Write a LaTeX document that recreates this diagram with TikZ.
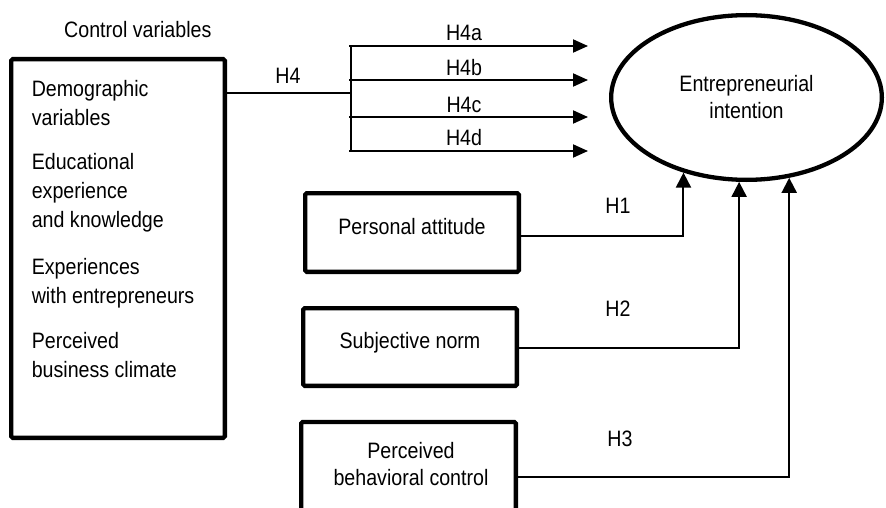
\documentclass[tikz,border=0pt]{standalone}
\usepackage{fontspec}
\setmainfont{Liberation Sans}[FakeStretch=0.88]
\usetikzlibrary{arrows.meta,shapes.geometric}
\begin{document}
\begin{tikzpicture}[x=1pt,y=-1pt,
  every node/.style={font=\fontsize{22.3}{27}\selectfont},
  txt/.style={inner sep=0pt},
  bigbox/.style={draw, line width=4.3pt, rounded corners=1.5pt, inner sep=0pt},
  oval/.style={draw, ellipse, line width=4.3pt, inner sep=0pt, align=center},
  conn/.style={line width=2pt},
  arr/.style={line width=2pt, -{Triangle[length=15pt,width=13pt]}},
  uparr/.style={line width=2pt, -{Triangle[length=15pt,width=15pt]}}]
\useasboundingbox (0,0) rectangle (886,508);
\clip (0,0) rectangle (886,508);

% left box
\node[bigbox, minimum width=213.7pt, minimum height=378.7pt] (cv) at (118,248.5) {};
\node[txt, anchor=base west] (cvt) at (64,37.5) {Control variables};
\node[txt, anchor=base west] (l1) at (31.6,96.5) {Demographic};
\node[txt, anchor=base west] (l2) at (31.6,125.5) {variables};
\node[txt, anchor=base west] (l3) at (31.6,169.5) {Educational};
\node[txt, anchor=base west] (l4) at (31.6,198.5) {experience};
\node[txt, anchor=base west] (l5) at (31.6,227.5) {and knowledge};
\node[txt, anchor=base west] (l6) at (31.6,274.5) {Experiences};
\node[txt, anchor=base west] (l7) at (31.6,303.5) {with entrepreneurs};
\node[txt, anchor=base west] (l8) at (31.6,348.5) {Perceived};
\node[txt, anchor=base west] (l9) at (31.6,377.5) {business climate};

% ellipse
\node[oval, minimum width=270.7pt, minimum height=164.7pt] (ei) at (746.5,97.5) {Entrepreneurial\\intention};

% right-hand boxes
\node[bigbox, minimum width=213.7pt, minimum height=78.7pt] (pa) at (412,232.5) {};
\node[txt, anchor=base] (pat) at (412,234.5) {Personal attitude};
\node[bigbox, minimum width=213.7pt, minimum height=77.7pt] (sn) at (410,347) {};
\node[txt, anchor=base] (snt) at (410,348.5) {Subjective norm};
\node[bigbox, minimum width=214.7pt, minimum height=108pt] (pb) at (408.5,476) {};
\node[txt, anchor=base] (pbt1) at (411,458.5) {Perceived};
\node[txt, anchor=base] (pbt2) at (411,485.5) {behavioral control};

% H4 branch
\coordinate (j) at (351,93);
\coordinate (bt) at (351,46);
\coordinate (bb) at (351,151);
\draw[conn] (cv.east |- j) -- (j);
\draw[conn] (bt) -- (bb);
\node[txt, anchor=base] (h4) at (288,83.5) {H4};

\coordinate (s1) at (349,46);  \coordinate (t1) at (588,46);
\coordinate (s2) at (349,80);  \coordinate (t2) at (588,80);
\coordinate (s3) at (349,117); \coordinate (t3) at (588,117);
\coordinate (s4) at (349,151); \coordinate (t4) at (588,151);
\draw[arr] (s1) -- (t1);
\draw[arr] (s2) -- (t2);
\draw[arr] (s3) -- (t3);
\draw[arr] (s4) -- (t4);
\node[txt, anchor=base] (h4a) at (464,41) {H4a};
\node[txt, anchor=base] (h4b) at (464,75.5) {H4b};
\node[txt, anchor=base] (h4c) at (464,112.5) {H4c};
\node[txt, anchor=base] (h4d) at (464,146) {H4d};

% H1-H3
\draw[uparr] ([yshift=-3.5pt]pa.east) -| (ei.230);
\draw[uparr] ([yshift=-1pt]sn.east) -| (ei.265);
\draw[uparr] ([yshift=-1pt]pb.east) -| (ei.298);
\node[txt, anchor=base] (h1) at (618,213.5) {H1};
\node[txt, anchor=base] (h2) at (618,316) {H2};
\node[txt, anchor=base] (h3) at (620,446) {H3};
\end{tikzpicture}
\end{document}
